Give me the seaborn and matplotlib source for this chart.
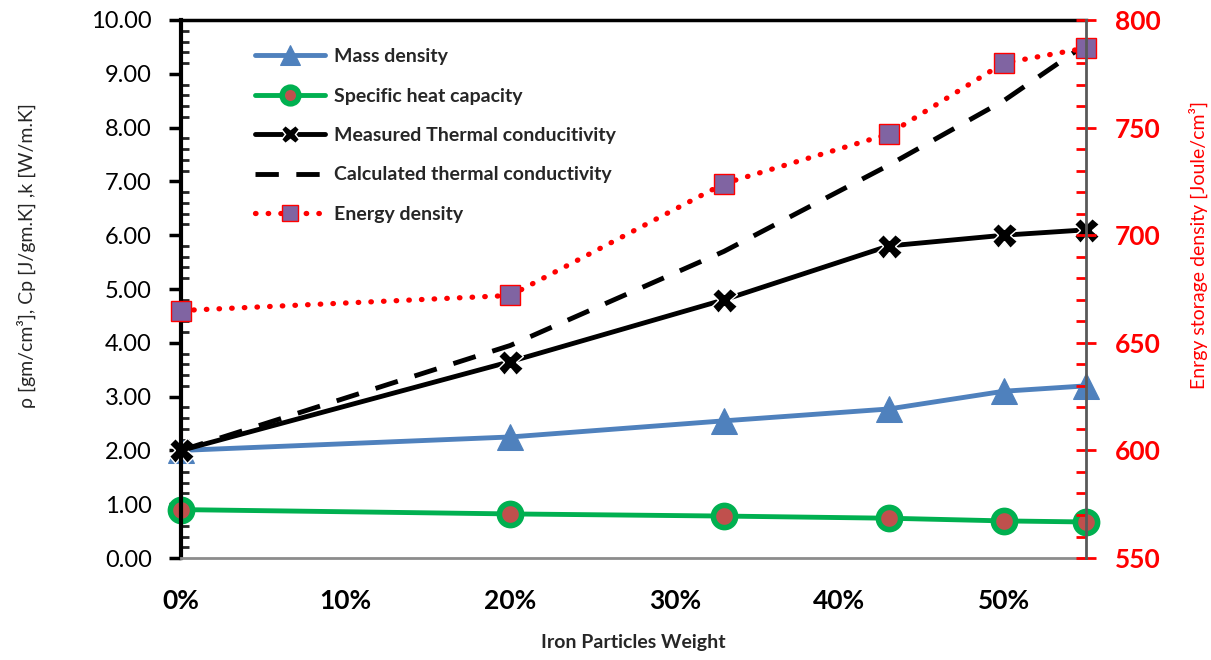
import numpy as np
import pandas as pd
import matplotlib
matplotlib.use("Agg")
import matplotlib.pyplot as plt
import seaborn as sns
from matplotlib.ticker import MultipleLocator, PercentFormatter

# data
iron_weight = [0.0, 0.20, 0.33, 0.43, 0.50, 0.55]
mass_density = [2.00, 2.25, 2.55, 2.77, 3.10, 3.20]
specific_heat = [0.90, 0.82, 0.78, 0.74, 0.69, 0.67]
measured_k = [2.00, 3.65, 4.80, 5.80, 6.00, 6.10]
calculated_k = [2.00, 3.95, 5.70, 7.30, 8.50, 9.55]
energy_density = [665, 672, 724, 747, 780, 787]

sns.set_style("white")
plt.rcParams["font.family"] = ["Lato", "DejaVu Sans"]

fig = plt.figure(figsize=(12.11, 6.6), dpi=100)
ax = fig.add_axes([0.1495, 0.1545, 0.7473, 0.8152])
ax2 = ax.twinx()

blue = "#4F81BD"
green = "#00B050"
red_fill = "#C0504D"
purple = "#8064A2"

sns.lineplot(x=iron_weight, y=mass_density, ax=ax, color=blue, lw=3.5,
             marker="^", markersize=19, markeredgecolor=blue, label="Mass density")
sns.lineplot(x=iron_weight, y=specific_heat, ax=ax, color=green, lw=3.5,
             marker="o", markersize=16, markerfacecolor=red_fill,
             markeredgecolor=green, markeredgewidth=4, label="Specific heat capacity")
sns.lineplot(x=iron_weight, y=measured_k, ax=ax, color="black", lw=3.5,
             marker="X", markersize=18, markerfacecolor="black",
             markeredgecolor="white", markeredgewidth=1.0,
             label="Measured Thermal conducitivity")
sns.lineplot(x=iron_weight, y=calculated_k, ax=ax, color="black", lw=3.5,
             linestyle=(0, (4.8, 3.6)), label="Calculated thermal conductivity")
sns.lineplot(x=iron_weight, y=energy_density, ax=ax2, color="red", lw=3.8,
             linestyle=(0, (0.1, 2.3)), dash_capstyle="round",
             marker="s", markersize=15, markerfacecolor=purple,
             markeredgecolor="red", markeredgewidth=1.0, label="Energy density")
for ln in ax2.lines:
    ln.set_clip_on(False)
for ln in ax.lines:
    ln.set_clip_on(False)

# left axis
ax.set_xlim(0, 0.55)
ax.set_ylim(0, 10)
ax.yaxis.set_major_locator(MultipleLocator(1))
ax.yaxis.set_minor_locator(MultipleLocator(0.2))
ax.yaxis.set_major_formatter(matplotlib.ticker.FormatStrFormatter("%.2f"))
ax.tick_params(axis="y", which="major", direction="out", length=9, width=2.5,
               labelsize=17, colors="black", pad=12)
ax.tick_params(axis="y", which="minor", direction="in", length=6, width=2)
ax.xaxis.set_major_locator(MultipleLocator(0.1))
ax.xaxis.set_major_formatter(PercentFormatter(1.0, decimals=0))
ax.tick_params(axis="x", which="major", direction="out", length=7, width=1.5,
               color="#BFBFBF", labelsize=19, labelcolor="black", pad=15)
for lab in ax.get_xticklabels():
    lab.set_fontweight("bold")
ax.set_xlabel("Iron Particles Weight", fontsize=14, fontweight="bold")
ax.xaxis.set_label_coords(0.5, -0.142)
ax.set_ylabel("ρ [gm/cm³], Cp [J/gm.K] ,k [W/m.K]", fontsize=14)
ax.yaxis.set_label_coords(-0.16, 0.563)

# right axis
ax2.set_ylim(550, 800)
ax2.yaxis.set_major_locator(MultipleLocator(50))
ax2.yaxis.set_minor_locator(MultipleLocator(10))
ax2.tick_params(axis="y", which="major", direction="inout", length=14, width=2,
                colors="red", labelsize=19, pad=14)
ax2.tick_params(axis="y", which="minor", direction="in", length=7, width=2,
                colors="red")
for lab in ax2.get_yticklabels():
    lab.set_fontweight("bold")
ax2.set_ylabel("Enrgy storage density [Joule/cm³]", fontsize=14, color="red")
ax2.yaxis.set_label_coords(1.113, 0.582)

ax.spines["left"].set_color("black")
ax.spines["left"].set_linewidth(3)
ax.spines["top"].set_color("black")
ax.spines["top"].set_linewidth(2.5)
ax.spines["bottom"].set_color("#8C8C8C")
ax.spines["bottom"].set_linewidth(2)
for side in ["left", "top", "bottom"]:
    ax2.spines[side].set_visible(False)
ax2.spines["right"].set_color("#595959")
ax2.spines["right"].set_linewidth(2)
ax.spines["right"].set_visible(False)

# combined legend
h1, l1 = ax.get_legend_handles_labels()
h2, l2 = ax2.get_legend_handles_labels()
ax.get_legend().remove()
ax2.get_legend().remove()
leg = ax2.legend(h1 + h2, l1 + l2, loc="upper left", bbox_to_anchor=(0.062, 0.98),
                 frameon=False, handlelength=3.6, labelspacing=1.15,
                 prop={"weight": "bold", "size": 14}, handletextpad=0.5,
                 markerscale=0.75)

fig.savefig("out.png", dpi=100)
